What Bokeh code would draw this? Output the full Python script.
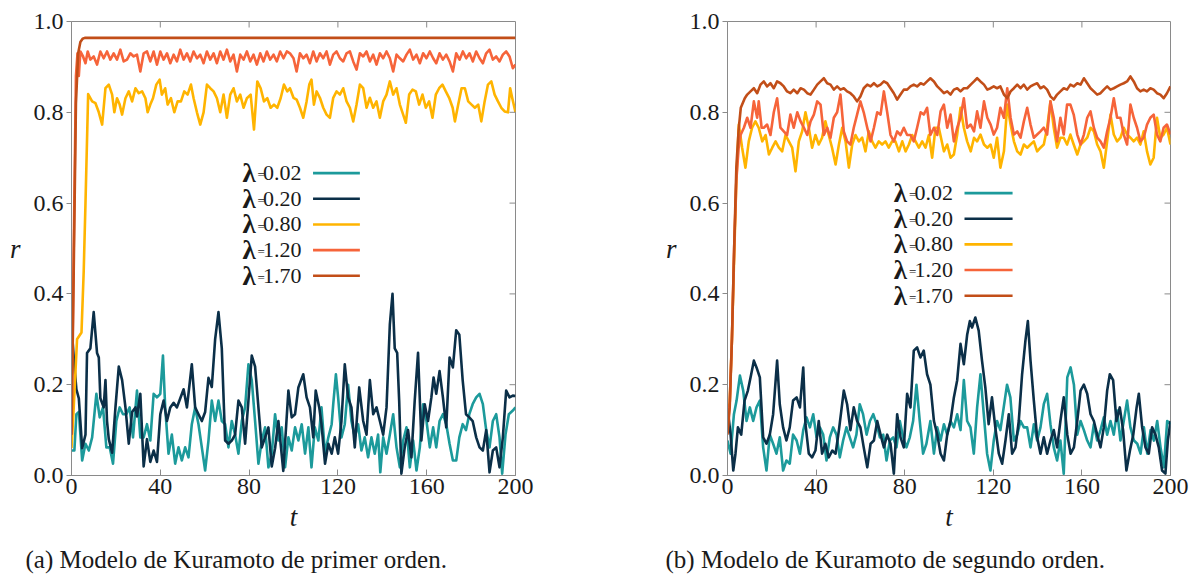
from bokeh.plotting import figure
from bokeh.models import (ColumnDataSource, FixedTicker, Range1d, Title, NumeralTickFormatter)
from bokeh.layouts import row
from bokeh.embed import file_html
from bokeh.resources import INLINE
from bokeh.core.properties import value

# ---------------- data ----------------
LAMBDAS = ["0.02", "0.20", "0.80", "1.20", "1.70"]
COLORS = ["#1c9a9b", "#0b2f48", "#ffb400", "#f6643a", "#c24e18"]
X_TICKS = [0, 40, 80, 120, 160, 200]
Y_TICKS = [0.0, 0.2, 0.4, 0.6, 0.8, 1.0]
CAPTIONS = ["(a) Modelo de Kuramoto de primer orden.",
            "(b) Modelo de Kuramoto de segundo orden."]

# (a) first order: (t, r) points
a_002 = [(0, 0.055), (1.3, 0.055), (2.2, 0.135), (3.3, 0.14), (4.8, 0.033), (6.3, 0.07), (7.8, 0.055),
         (9.3, 0.084), (11.2, 0.18), (12.7, 0.128), (14.2, 0.15), (15.7, 0.062), (17.2, 0.062),
         (18.7, 0.026), (20.2, 0.12), (21.7, 0.15), (23.2, 0.135), (24.7, 0.135), (26.2, 0.15),
         (27.7, 0.084), (29.5, 0.187), (31, 0.084), (32.5, 0.084), (34, 0.113), (35.5, 0.077),
         (37, 0.18), (38.5, 0.172), (40, 0.18), (41.2, 0.264), (42.2, 0.15), (43.7, 0.048),
         (45.2, 0.09), (46.7, 0.026), (48.2, 0.062), (49.7, 0.033), (51.2, 0.062), (52.7, 0.04),
         (54.2, 0.113), (55.7, 0.15), (57.2, 0.113), (58.7, 0.062), (60.2, 0.011), (61.7, 0.077),
         (63.2, 0.165), (64.7, 0.12), (66.2, 0.165), (67.7, 0.12), (69.2, 0.113), (70.7, 0.062),
         (72.2, 0.12), (73.7, 0.09), (75.2, 0.048), (76.7, 0.12), (78.2, 0.15), (79.7, 0.245),
         (81.2, 0.21), (82.7, 0.12), (84.2, 0.026), (85.7, 0.077), (87.2, 0.106), (88.7, 0.018),
         (90.2, 0.048), (91.7, 0.135), (93.2, 0.077), (94.7, 0.106), (96.2, 0.018), (97.7, 0.084),
         (99.2, 0.055), (100.7, 0.106), (102.2, 0.077), (103.7, 0.113), (105.2, 0.048),
         (106.7, 0.106), (108.1, 0.018), (109.6, 0.106), (111.2, 0.077), (112.6, 0.15),
         (114.2, 0.048), (115.7, 0.084), (117.2, 0.113), (117.9, 0.157), (119.1, 0.223),
         (120.1, 0.172), (121.6, 0.084), (123.1, 0.113), (124.6, 0.2), (126.1, 0.12),
         (127.6, 0.084), (129.1, 0.113), (130.6, 0.055), (132.1, 0.084), (133.6, 0.04),
         (135.1, 0.084), (136.6, 0.048), (138.1, 0.09), (139.1, 0.007), (140.4, 0.084),
         (141.9, 0.048), (143.4, 0.09), (144.9, 0.135), (146.4, 0.062), (147.9, 0.018),
         (149.4, 0.077), (150.9, 0.106), (152.4, 0.018), (153.9, 0.077), (155.4, 0.011),
         (156.9, 0.062), (158.4, 0.157), (159.9, 0.12), (161.4, 0.062), (162.9, 0.106),
         (164.3, 0.062), (165.8, 0.12), (167.3, 0.135), (168.8, 0.113), (170.3, 0.07),
         (171.8, 0.033), (173.3, 0.033), (174.7, 0.084), (176.2, 0.113), (177.7, 0.1),
         (179.2, 0.135), (180.7, 0.157), (182.3, 0.172), (183.8, 0.18), (185.3, 0.157),
         (186.8, 0.1), (188.3, 0.062), (189.8, 0.12), (191.3, 0.135), (192.8, 0.084),
         (194, 0.004), (195.5, 0.09), (197, 0.135), (198.8, 0.143), (200, 0.15)]

a_020 = [(0, 0.25), (0.3, 0.31), (1, 0.26), (2.2, 0.19), (3.3, 0.17), (4.8, 0.06), (6.3, 0.09),
         (7, 0.27), (8.5, 0.28), (10, 0.36), (11.5, 0.27), (12.3, 0.26), (13, 0.17), (14.5, 0.15),
         (15.3, 0.21), (16, 0.12), (16.8, 0.08), (18.3, 0.05), (19.8, 0.15), (21.3, 0.24),
         (22.8, 0.21), (24.3, 0.15), (25.8, 0.07), (27.3, 0.14), (28.8, 0.15), (29.5, 0.13),
         (31, 0.18), (32.5, 0.02), (34, 0.08), (35.5, 0.03), (37, 0.055), (38.5, 0.03),
         (40, 0.135), (41.5, 0.165), (43, 0.12), (44.5, 0.15), (46, 0.16), (47.5, 0.15),
         (49, 0.17), (50.5, 0.19), (52, 0.15), (54.2, 0.245), (55.7, 0.15), (57.2, 0.135),
         (58.7, 0.12), (60.2, 0.14), (61.7, 0.215), (63.2, 0.195), (64.7, 0.30), (66.2, 0.36),
         (67.7, 0.28), (69.2, 0.077), (70.7, 0.07), (72.2, 0.077), (73.7, 0.09), (75.2, 0.165),
         (76.7, 0.15), (78.2, 0.07), (79.7, 0.165), (81.2, 0.264), (82.7, 0.24), (84.2, 0.15),
         (85.7, 0.062), (87.2, 0.084), (88.7, 0.106), (90.2, 0.02), (91.7, 0.06), (93.2, 0.12),
         (95.4, 0.01), (97.7, 0.187), (99.2, 0.128), (100.7, 0.135), (102.2, 0.194),
         (104.4, 0.223), (105.9, 0.172), (107.4, 0.15), (108.9, 0.084), (110, 0.187),
         (111.6, 0.15), (112.6, 0.113), (114.2, 0.026), (115.7, 0.07), (117.2, 0.048),
         (118.6, 0.084), (120.1, 0.048), (121.6, 0.12), (123.1, 0.245), (124.6, 0.172),
         (126.1, 0.15), (127.6, 0.062), (129.6, 0.194), (131.4, 0.12), (132.9, 0.09),
         (134.4, 0.21), (135.9, 0.135), (137.4, 0.15), (138.9, 0.12), (140.4, 0.09),
         (141.9, 0.15), (143.4, 0.333), (144.6, 0.40), (145.6, 0.28), (146.7, 0.27),
         (147.6, 0.165), (148.6, 0.004), (150.1, 0.062), (151.6, 0.1), (153.1, 0.04),
         (154.6, 0.165), (156.1, 0.27), (157.6, 0.077), (159.1, 0.157), (160.6, 0.12),
         (162.1, 0.172), (163.1, 0.216), (164.3, 0.18), (165.8, 0.23), (167.3, 0.172),
         (168.8, 0.106), (170.3, 0.26), (171.8, 0.238), (173.3, 0.32), (174.7, 0.31),
         (176.2, 0.21), (177.7, 0.135), (179.2, 0.128), (180.7, 0.12), (182.3, 0.084),
         (183.8, 0.062), (185.3, 0.055), (186.8, 0.1), (188.3, 0.007), (189.8, 0.055),
         (191.3, 0.062), (192.8, 0.018), (194.3, 0.084), (195.8, 0.187), (197.3, 0.172),
         (198.8, 0.176), (200, 0.175)]

a_080 = [(0, 0.06), (1, 0.15), (2.5, 0.30), (4.5, 0.315), (5.5, 0.45), (6.3, 0.6), (7.5, 0.84),
         (9.3, 0.824), (10.8, 0.82), (12.3, 0.80), (13.8, 0.773), (15.3, 0.853), (16.8, 0.861),
         (18.3, 0.839), (19.3, 0.80), (20.5, 0.831), (21.7, 0.817), (22.8, 0.795), (24.3, 0.831),
         (25.8, 0.846), (27.3, 0.824), (28.8, 0.853), (30.3, 0.842), (31.8, 0.846), (33.3, 0.831),
         (34.3, 0.80), (35.5, 0.817), (36.7, 0.831), (38.2, 0.861), (39.7, 0.872), (40.7, 0.839),
         (42.2, 0.853), (43.3, 0.817), (44.8, 0.831), (46.3, 0.80), (47.8, 0.824), (49.3, 0.824),
         (50.8, 0.846), (52.3, 0.839), (53.8, 0.861), (55, 0.831), (56.5, 0.80), (58, 0.773),
         (59.5, 0.80), (61, 0.861), (62.5, 0.853), (64, 0.846), (65.5, 0.831), (67, 0.80),
         (68.5, 0.839), (70, 0.788), (71.5, 0.839), (73, 0.853), (74.5, 0.824), (76, 0.839),
         (77.5, 0.81), (79, 0.831), (80.7, 0.839), (82.2, 0.762), (83.7, 0.868), (85.2, 0.853),
         (86.7, 0.824), (88.2, 0.831), (89.7, 0.81), (91.2, 0.817), (92.7, 0.81), (94.2, 0.831),
         (95.7, 0.861), (97.2, 0.846), (98.4, 0.853), (100, 0.832), (101.4, 0.828),
         (102.9, 0.81), (104.4, 0.788), (105.9, 0.824), (107.1, 0.861), (108.1, 0.872),
         (109.2, 0.817), (110.4, 0.846), (111.9, 0.832), (113.4, 0.81), (114.9, 0.795),
         (116.4, 0.788), (117.9, 0.832), (119.4, 0.846), (120.9, 0.839), (122.4, 0.853),
         (123.9, 0.824), (125.4, 0.81), (126.9, 0.78), (128.4, 0.817), (129.9, 0.861),
         (131.4, 0.853), (132.9, 0.81), (134.4, 0.832), (135.9, 0.81), (137.4, 0.824),
         (138.9, 0.788), (140.4, 0.824), (141.9, 0.839), (143.4, 0.868), (144.9, 0.839),
         (146.4, 0.853), (147.9, 0.817), (149.4, 0.795), (150.6, 0.777), (152.1, 0.839),
         (153.6, 0.85), (155.1, 0.846), (156.6, 0.817), (158.1, 0.839), (159.6, 0.81),
         (161.1, 0.824), (162.6, 0.788), (164.1, 0.839), (165.6, 0.853), (167.1, 0.861),
         (168.6, 0.846), (170.1, 0.832), (171.7, 0.81), (172.7, 0.78), (174.2, 0.817),
         (175.7, 0.853), (177.2, 0.853), (178.7, 0.824), (180.2, 0.817), (181.7, 0.81),
         (183.2, 0.817), (184.6, 0.78), (186.1, 0.824), (187.6, 0.861), (189.1, 0.868),
         (190.6, 0.839), (192.1, 0.824), (193.6, 0.81), (195.1, 0.802), (196.6, 0.8),
         (197.6, 0.853), (198.5, 0.832), (200, 0.80)]

a_120 = [(0, 0.09), (1, 0.5), (2, 0.88), (2.7, 0.93), (3.3, 0.88), (4, 0.934), (5.2, 0.923),
         (6.3, 0.908), (7.3, 0.934), (8.5, 0.916), (10, 0.923), (11.5, 0.905), (13, 0.934),
         (14.5, 0.919), (16, 0.934), (17.5, 0.916), (19, 0.93), (20.5, 0.916), (22, 0.938),
         (23.5, 0.912), (25, 0.916), (26.5, 0.93), (28, 0.923), (29.5, 0.927), (31, 0.89),
         (32.5, 0.93), (34, 0.934), (35.5, 0.912), (37, 0.934), (38.5, 0.905), (40, 0.934),
         (41.5, 0.916), (43, 0.93), (44.5, 0.908), (46, 0.927), (47.5, 0.912), (49, 0.938),
         (50.5, 0.916), (52, 0.93), (53.5, 0.912), (55, 0.934), (56.5, 0.919), (58, 0.927),
         (59.5, 0.908), (61, 0.934), (62.5, 0.916), (64, 0.93), (65.5, 0.908), (67, 0.934),
         (68.5, 0.916), (70, 0.938), (71.5, 0.912), (73, 0.927), (74.5, 0.89), (76, 0.927),
         (77.5, 0.916), (79, 0.934), (80.5, 0.912), (82, 0.927), (83.5, 0.905), (85, 0.93),
         (86.5, 0.912), (88, 0.934), (89.5, 0.916), (91, 0.927), (92.5, 0.912), (94, 0.934),
         (95.5, 0.919), (97, 0.934), (98.4, 0.93), (100, 0.919), (101.4, 0.89), (102.9, 0.93),
         (104.4, 0.919), (105.9, 0.927), (107.4, 0.908), (108.9, 0.934), (110.4, 0.912),
         (111.9, 0.93), (113.4, 0.919), (114.9, 0.934), (116.4, 0.905), (117.9, 0.927),
         (119.4, 0.934), (120.9, 0.919), (122.4, 0.912), (123.9, 0.93), (125.4, 0.934),
         (126.9, 0.912), (128.4, 0.894), (129.9, 0.93), (131.4, 0.923), (132.9, 0.934),
         (134.4, 0.912), (135.9, 0.927), (137.4, 0.905), (138.9, 0.93), (140.4, 0.919),
         (141.9, 0.934), (143.4, 0.919), (144.9, 0.89), (146.4, 0.927), (147.9, 0.919),
         (149.4, 0.912), (150.9, 0.927), (152.4, 0.938), (153.9, 0.916), (155.4, 0.927),
         (156.9, 0.908), (158.4, 0.93), (159.9, 0.919), (161.4, 0.934), (162.9, 0.919),
         (164.3, 0.908), (165.8, 0.93), (167.3, 0.916), (168.8, 0.927), (170.3, 0.912),
         (171.8, 0.89), (173.3, 0.93), (174.8, 0.916), (176.3, 0.934), (177.8, 0.919),
         (179.3, 0.93), (180.8, 0.912), (182.3, 0.934), (183.8, 0.919), (185.3, 0.908),
         (186.8, 0.93), (188.3, 0.938), (189.8, 0.916), (191.3, 0.923), (192.8, 0.912),
         (194.3, 0.927), (195.8, 0.934), (197.3, 0.923), (198.8, 0.897), (200, 0.905)]

a_170 = [(0, 0.09), (1, 0.45), (2, 0.82), (3, 0.93), (4, 0.955), (5, 0.962), (6, 0.964), (200, 0.964)]

# (b) second order: (t, r) points
b_002 = [(0, 0.077), (1.4, 0.048), (2.9, 0.135), (4.1, 0.165), (5.6, 0.22), (7.1, 0.187),
         (8.6, 0.12), (10.1, 0.15), (11.6, 0.12), (13.1, 0.15), (14.6, 0.165), (16.1, 0.062),
         (17.6, 0.011), (19.1, 0.09), (20.6, 0.07), (22.1, 0.048), (23.6, 0.084), (25.1, 0.011),
         (26.6, 0.033), (28.1, 0.026), (29.6, 0.09), (31.2, 0.077), (32.7, 0.048), (34.2, 0.1),
         (35.7, 0.128), (37.2, 0.106), (38.7, 0.135), (40.2, 0.084), (41.7, 0.106), (43.2, 0.09),
         (44.7, 0.033), (46.2, 0.084), (47.7, 0.106), (49.2, 0.09), (50.7, 0.04), (52.2, 0.077),
         (53.7, 0.106), (55.2, 0.084), (56.7, 0.062), (58.2, 0.09), (59.7, 0.157), (61.2, 0.135),
         (62.8, 0.09), (64.3, 0.12), (65.8, 0.135), (67.3, 0.113), (68.8, 0.084), (70.3, 0.09),
         (71.8, 0.033), (73.3, 0.077), (74.8, 0.084), (76.3, 0.062), (77.8, 0.12), (79.3, 0.084),
         (80.8, 0.062), (82.3, 0.084), (83.8, 0.12), (85.3, 0.2), (86.8, 0.12), (88.3, 0.048),
         (89.8, 0.07), (91.6, 0.12), (93.2, 0.048), (94.7, 0.106), (96.2, 0.077), (97.7, 0.113),
         (99.2, 0.09), (100.7, 0.12), (102.2, 0.106), (103.7, 0.135), (105.2, 0.1), (106.7, 0.21),
         (108.2, 0.12), (109.7, 0.106), (111.2, 0.048), (112.7, 0.15), (114.2, 0.223),
         (115.7, 0.135), (117.2, 0.048), (118.7, 0.011), (120.2, 0.077), (121.7, 0.12),
         (123.2, 0.1), (124.7, 0.15), (126.2, 0.2), (127.7, 0.172), (129.3, 0.077), (130.8, 0.09),
         (132.3, 0.12), (133.8, 0.106), (135.3, 0.106), (136.8, 0.062), (138.3, 0.113),
         (139.8, 0.077), (141.3, 0.106), (142.8, 0.157), (144.3, 0.18), (145.8, 0.113),
         (147.3, 0.062), (148.8, 0.033), (150.3, 0.077), (151.8, 0.004), (153.4, 0.216),
         (154.9, 0.238), (156.4, 0.2), (157.9, 0.09), (159.4, 0.12), (160.9, 0.1), (162.4, 0.077),
         (163.9, 0.062), (165.4, 0.113), (166.9, 0.077), (168.4, 0.1), (169.9, 0.128),
         (171.4, 0.09), (172.9, 0.12), (174.4, 0.09), (175.9, 0.143), (177.4, 0.077),
         (178.9, 0.12), (180.4, 0.165), (181.9, 0.106), (183.5, 0.077), (185, 0.07),
         (186.5, 0.048), (188, 0.106), (189.5, 0.048), (191, 0.1), (192.5, 0.077), (194, 0.12),
         (195.5, 0.062), (197, 0.018), (198.5, 0.12), (200, 0.113)]

b_020 = [(0, 0.15), (1.4, 0.09), (2.6, 0.011), (3.6, 0.048), (4.7, 0.106), (6.2, 0.09),
         (7.7, 0.165), (9.2, 0.187), (10.7, 0.223), (11.9, 0.253), (13.1, 0.238), (14.6, 0.216),
         (16.1, 0.084), (17.6, 0.07), (19.1, 0.09), (20.6, 0.135), (22.4, 0.253), (23.6, 0.157),
         (25.1, 0.106), (26.6, 0.077), (28.1, 0.106), (29.6, 0.165), (31.2, 0.172), (32.7, 0.15),
         (34.2, 0.238), (35.2, 0.113), (36.7, 0.048), (38.2, 0.04), (39.7, 0.055), (41.2, 0.12),
         (42.7, 0.048), (44.2, 0.07), (45.7, 0.04), (47.3, 0.055), (48.8, 0.048), (50.3, 0.1),
         (52.5, 0.187), (54, 0.157), (55.5, 0.1), (57, 0.15), (58.5, 0.12), (60, 0.106),
         (61.5, 0.062), (63.1, 0.018), (64.6, 0.07), (66.1, 0.077), (67.6, 0.12), (69.1, 0.09),
         (70.6, 0.062), (72.1, 0.09), (73.6, 0.07), (75.1, 0.004), (76.6, 0.135), (78.1, 0.084),
         (79.6, 0.062), (81.1, 0.18), (82.6, 0.15), (84.1, 0.275), (85.6, 0.282), (87.1, 0.26),
         (88.6, 0.275), (90.1, 0.223), (91.6, 0.2), (93.2, 0.12), (94.7, 0.09), (96.2, 0.048),
         (97.7, 0.033), (99.2, 0.09), (100.7, 0.12), (102.2, 0.172), (103.7, 0.21), (105.2, 0.29),
         (106.7, 0.245), (108.2, 0.31), (109.4, 0.34), (110.4, 0.326), (111.9, 0.348),
         (113.4, 0.319), (114.9, 0.253), (116.4, 0.194), (117.9, 0.113), (119.4, 0.172),
         (120.9, 0.106), (122.5, 0.048), (124, 0.026), (125.5, 0.077), (127, 0.135),
         (128.5, 0.048), (130, 0.062), (131.5, 0.12), (133, 0.223), (134.5, 0.297), (135.6, 0.34),
         (136.8, 0.253), (138.3, 0.165), (139.8, 0.084), (141.3, 0.048), (142.8, 0.084),
         (144.3, 0.048), (145.8, 0.077), (147.3, 0.1), (148.8, 0.062), (150.3, 0.12),
         (151.8, 0.172), (153.4, 0.09), (154.9, 0.048), (156.4, 0.062), (157.9, 0.12),
         (159.4, 0.187), (160.9, 0.2), (162.4, 0.18), (163.9, 0.135), (165.4, 0.12),
         (166.9, 0.09), (168.4, 0.062), (169.9, 0.106), (171.4, 0.187), (172.6, 0.223),
         (174.1, 0.21), (175.6, 0.12), (177.1, 0.15), (178.6, 0.1), (180.1, 0.011),
         (181.7, 0.055), (183.2, 0.09), (184.7, 0.15), (185.7, 0.18), (187.2, 0.106),
         (188.7, 0.062), (190.2, 0.048), (191.7, 0.106), (193.2, 0.09), (194.7, 0.062),
         (196.2, 0.011), (197.7, 0.004), (198.8, 0.077), (200, 0.12)]

b_080 = [(0, 0.14), (1, 0.16), (2, 0.3), (3, 0.48), (4, 0.65), (5.1, 0.773), (6.6, 0.722),
         (8.1, 0.678), (9.6, 0.736), (11.1, 0.766), (12.6, 0.78), (14.1, 0.766), (15.7, 0.736),
         (17.2, 0.75), (18.7, 0.707), (20.2, 0.722), (21.7, 0.736), (23.2, 0.722), (24.7, 0.714),
         (26.2, 0.75), (27.7, 0.736), (29.2, 0.722), (30.7, 0.67), (32.2, 0.736), (33.7, 0.758),
         (35.2, 0.80), (36.7, 0.766), (38.2, 0.722), (39.7, 0.75), (41.2, 0.729), (42.7, 0.744),
         (44.2, 0.78), (45.7, 0.75), (47.2, 0.722), (48.8, 0.685), (50.3, 0.729), (51.8, 0.766),
         (53.3, 0.736), (54.8, 0.678), (56.3, 0.729), (57.8, 0.75), (59.3, 0.736), (60.8, 0.744),
         (62.3, 0.714), (63.8, 0.758), (65.3, 0.736), (66.8, 0.722), (68.3, 0.736), (69.8, 0.729),
         (71.3, 0.736), (72.8, 0.722), (74.3, 0.736), (75.8, 0.736), (77.4, 0.714), (78.9, 0.736),
         (80.4, 0.714), (81.9, 0.729), (83.4, 0.75), (84.9, 0.736), (86.4, 0.722), (87.9, 0.736),
         (89.4, 0.722), (90.9, 0.75), (92.4, 0.70), (93.9, 0.766), (95.4, 0.766), (97.7, 0.714),
         (99.2, 0.729), (100.7, 0.70), (102.2, 0.707), (103.7, 0.751), (105.2, 0.81),
         (106.7, 0.766), (108.2, 0.736), (109.8, 0.714), (111.3, 0.744), (112.7, 0.736),
         (114.2, 0.751), (115.8, 0.729), (117.3, 0.722), (118.8, 0.729), (120.2, 0.70),
         (121.7, 0.744), (123.2, 0.678), (124.8, 0.714), (126.3, 0.817), (127.8, 0.773),
         (129.3, 0.736), (130.8, 0.714), (132.3, 0.707), (133.8, 0.729), (135.3, 0.722),
         (136.8, 0.729), (138.3, 0.736), (139.8, 0.714), (141.3, 0.722), (142.8, 0.729),
         (144.3, 0.766), (145.8, 0.824), (147.3, 0.766), (148.8, 0.722), (150.3, 0.744),
         (151.8, 0.744), (153.3, 0.729), (154.8, 0.751), (156.3, 0.729), (157.9, 0.707),
         (159.4, 0.729), (160.9, 0.736), (162.4, 0.744), (163.9, 0.766), (165.4, 0.758),
         (166.9, 0.729), (168.4, 0.714), (169.9, 0.678), (171.4, 0.736), (172.9, 0.795),
         (174.4, 0.751), (175.9, 0.736), (177.4, 0.744), (178.9, 0.766), (180.4, 0.751),
         (181.9, 0.744), (183.4, 0.736), (184.9, 0.744), (186.4, 0.729), (187.9, 0.758),
         (189.4, 0.714), (190.9, 0.685), (192.4, 0.70), (193.9, 0.788), (195.4, 0.744),
         (196.9, 0.751), (198.4, 0.766), (200, 0.729)]

b_120 = [(0, 0.1), (1, 0.16), (2, 0.3), (3, 0.5), (4, 0.65), (5, 0.72), (5.9, 0.75), (7.4, 0.766),
         (8.9, 0.788), (10.4, 0.766), (11.9, 0.824), (13.4, 0.788), (14.1, 0.824), (15.4, 0.766),
         (16.4, 0.766), (17.9, 0.773), (19.4, 0.75), (20.9, 0.80), (22.4, 0.831), (23.9, 0.766),
         (25.4, 0.758), (26.9, 0.75), (28.4, 0.795), (29.9, 0.766), (31.5, 0.80), (33, 0.78),
         (34.5, 0.766), (36, 0.75), (37.5, 0.78), (39, 0.795), (40.5, 0.824), (42, 0.817),
         (43.5, 0.75), (45, 0.766), (46.5, 0.744), (48, 0.788), (49.5, 0.80), (51, 0.839),
         (52.5, 0.758), (54, 0.736), (55.5, 0.729), (57, 0.766), (58.5, 0.795), (60, 0.824),
         (61.5, 0.80), (63.1, 0.766), (64.6, 0.736), (66.1, 0.766), (67.6, 0.80), (69.1, 0.795),
         (70.6, 0.846), (72.1, 0.80), (73.6, 0.75), (75.1, 0.736), (76.6, 0.758), (78.1, 0.75),
         (79.6, 0.766), (81.1, 0.75), (82.6, 0.75), (84.1, 0.736), (85.6, 0.766), (87.2, 0.80),
         (88.6, 0.795), (90.1, 0.81), (91.6, 0.75), (93.2, 0.766), (94.7, 0.75), (96.2, 0.802),
         (97.7, 0.817), (99.2, 0.766), (100.7, 0.795), (102.2, 0.736), (103.7, 0.766),
         (105.2, 0.788), (106.7, 0.831), (108.2, 0.766), (109.8, 0.773), (111.3, 0.758),
         (112.7, 0.802), (114.2, 0.766), (115.8, 0.824), (117.3, 0.788), (118.8, 0.773),
         (120.2, 0.751), (121.7, 0.766), (123.2, 0.81), (124.8, 0.788), (126.3, 0.853),
         (127.8, 0.788), (129.3, 0.751), (130.8, 0.758), (132.3, 0.744), (133.8, 0.78),
         (135.3, 0.81), (136.8, 0.773), (138.3, 0.744), (139.8, 0.751), (141.3, 0.758),
         (142.8, 0.766), (144.3, 0.751), (145.8, 0.824), (147.3, 0.788), (148.8, 0.736),
         (150.3, 0.788), (151.8, 0.751), (153.3, 0.817), (154.8, 0.817), (156.3, 0.795),
         (157.9, 0.751), (159.4, 0.729), (160.9, 0.751), (162.4, 0.788), (163.9, 0.802),
         (165.4, 0.766), (166.9, 0.744), (168.4, 0.736), (169.9, 0.722), (171.4, 0.758),
         (172.9, 0.788), (174.4, 0.831), (175.9, 0.788), (177.4, 0.788), (178.9, 0.751),
         (180.4, 0.729), (181.9, 0.817), (183.4, 0.788), (184.9, 0.766), (186.4, 0.736),
         (187.9, 0.744), (189.4, 0.773), (190.9, 0.788), (192.4, 0.795), (193.9, 0.751),
         (195.4, 0.736), (196.9, 0.766), (198.4, 0.773), (200, 0.751)]

b_170 = [(0, 0.09), (1, 0.15), (2, 0.3), (3, 0.5), (4, 0.68), (5, 0.76), (6, 0.81), (7.8, 0.831),
         (8.9, 0.839), (10.4, 0.846), (11.9, 0.853), (13.4, 0.842), (14.9, 0.861), (16.4, 0.868),
         (17.9, 0.857), (19.4, 0.864), (20.9, 0.853), (22.4, 0.868), (23.9, 0.864), (25.4, 0.857),
         (26.9, 0.846), (28.4, 0.842), (29.9, 0.85), (31.5, 0.842), (33, 0.853), (34.5, 0.85),
         (36, 0.842), (37.5, 0.839), (39, 0.85), (40.5, 0.861), (42, 0.868), (43.5, 0.875),
         (45, 0.864), (46.5, 0.861), (48, 0.85), (49.5, 0.857), (51, 0.85), (52.5, 0.853),
         (54, 0.846), (55.5, 0.842), (57, 0.835), (58.5, 0.824), (60, 0.835), (61.5, 0.853),
         (63.1, 0.861), (64.6, 0.857), (66.1, 0.864), (67.6, 0.857), (69.1, 0.861), (70.6, 0.868),
         (72.1, 0.864), (73.6, 0.853), (75.1, 0.842), (76.6, 0.828), (78.1, 0.839), (79.6, 0.85),
         (81.1, 0.85), (82.6, 0.857), (84.1, 0.861), (85.6, 0.857), (87.2, 0.864), (88.6, 0.861),
         (90.1, 0.868), (91.6, 0.875), (93.2, 0.868), (94.7, 0.857), (96.2, 0.85), (97.7, 0.842),
         (99.2, 0.846), (100.7, 0.839), (102.2, 0.85), (103.7, 0.853), (105.2, 0.846),
         (106.7, 0.853), (108.2, 0.853), (109.8, 0.861), (111.3, 0.868), (112.7, 0.875),
         (114.2, 0.868), (115.8, 0.861), (117.3, 0.85), (118.8, 0.853), (120.2, 0.857),
         (121.7, 0.853), (123.2, 0.857), (124.8, 0.839), (126.3, 0.831), (127.8, 0.846),
         (129.3, 0.853), (130.8, 0.861), (132.3, 0.853), (133.8, 0.861), (135.3, 0.85),
         (136.8, 0.857), (138.3, 0.861), (139.8, 0.864), (141.3, 0.853), (142.8, 0.857),
         (144.3, 0.85), (145.8, 0.835), (147.3, 0.828), (148.8, 0.839), (150.3, 0.846),
         (151.8, 0.853), (153.3, 0.85), (154.8, 0.861), (156.3, 0.857), (157.9, 0.864),
         (159.4, 0.861), (160.9, 0.875), (162.4, 0.864), (163.9, 0.853), (165.4, 0.846),
         (166.9, 0.839), (168.4, 0.842), (169.9, 0.85), (171.4, 0.857), (172.9, 0.85),
         (174.4, 0.853), (175.9, 0.857), (177.4, 0.861), (178.9, 0.864), (180.4, 0.868),
         (181.9, 0.879), (183.4, 0.868), (184.9, 0.853), (186.4, 0.846), (187.9, 0.85),
         (189.4, 0.846), (190.9, 0.853), (192.4, 0.85), (193.9, 0.842), (195.4, 0.839),
         (196.9, 0.831), (198.4, 0.842), (200, 0.857)]

SERIES_A = [a_002, a_020, a_080, a_120, a_170]
SERIES_B = [b_002, b_020, b_080, b_120, b_170]

# ---------------- styling ----------------
FONT = "'Liberation Serif', 'DejaVu Serif', serif"
AXIS_GRAY = "#8a8a8a"
TEXT = "#1a1a1a"
LINE_W = 2.6
X_MIN, X_MAX, Y_MIN, Y_MAX = 0, 200, 0.0, 1.0


def style_axis(ax, tick_in, tick_out):
    ax.axis_line_color = AXIS_GRAY
    ax.axis_line_width = 1
    ax.major_tick_line_color = AXIS_GRAY
    ax.major_tick_in = tick_in
    ax.major_tick_out = tick_out
    ax.minor_tick_line_color = None
    ax.major_label_text_font = FONT
    ax.major_label_text_color = TEXT
    ax.major_label_text_font_size = "24px"


def make_panel(series, border_left, border_right, caption, cap_offset, legend):
    p = figure(width=600, height=586, x_range=Range1d(X_MIN, X_MAX), y_range=Range1d(Y_MIN, Y_MAX),
               output_backend="svg", toolbar_location=None,
               min_border_left=border_left, min_border_right=border_right,
               min_border_top=21, min_border_bottom=111,
               background_fill_color="white", border_fill_color="white")
    p.grid.visible = False
    p.outline_line_color = AXIS_GRAY

    for pts, col in zip(series, COLORS):
        src = ColumnDataSource(dict(t=[a for a, b in pts], r=[b for a, b in pts]))
        p.line("t", "r", source=src, line_color=col, line_width=LINE_W, line_join="round")

    # bottom / left axes
    p.xaxis.ticker = FixedTicker(ticks=X_TICKS)
    p.yaxis.ticker = FixedTicker(ticks=Y_TICKS)
    p.yaxis.formatter = NumeralTickFormatter(format="0.0")
    style_axis(p.xaxis[0], 6, 0)
    style_axis(p.yaxis[0], 0, 5)
    p.xaxis.major_label_standoff = 3
    p.yaxis.major_label_standoff = 3
    p.xaxis.axis_label = "t"
    p.yaxis.axis_label = "r"
    for ax in (p.xaxis[0], p.yaxis[0]):
        ax.axis_label_text_font = FONT
        ax.axis_label_text_font_style = "italic"
        ax.axis_label_text_font_size = "27px"
        ax.axis_label_text_color = TEXT
    p.xaxis.axis_label_standoff = 5
    p.yaxis.axis_label_standoff = 10
    if "axis_label_orientation" in p.yaxis[0].properties():
        p.yaxis[0].axis_label_orientation = "horizontal"

    # inner tick marks on the top and right frame edges
    dy_tick = 6.0 / 454 * (Y_MAX - Y_MIN)
    dx_tick = 6.0 / 444 * (X_MAX - X_MIN)
    xt = X_TICKS[1:-1]
    yt = Y_TICKS[1:-1]
    p.segment(x0=xt, y0=[Y_MAX] * len(xt), x1=xt, y1=[Y_MAX - dy_tick] * len(xt),
              line_color=AXIS_GRAY, line_width=1)
    p.segment(x0=[X_MAX] * len(yt), y0=yt, x1=[X_MAX - dx_tick] * len(yt), y1=yt,
              line_color=AXIS_GRAY, line_width=1)

    # caption below the panel
    cap = Title(text=caption, align="left", offset=cap_offset, text_font=FONT,
                text_font_size="25px", text_font_style="normal", text_color=TEXT, standoff=18)
    p.add_layout(cap, "below")

    # legend: text on the left, line sample on the right
    lam_x, eq_x, num_x, x0, x1, y0, dy = legend
    n = len(LAMBDAS)
    ys = [y0 - i * dy for i in range(n)]
    p.text(x=[lam_x] * n, y=ys, text=["λ"] * n, text_font=value(FONT), text_font_style="bold",
           text_font_size="27px", text_color=TEXT, text_baseline="middle", text_align="left")
    p.text(x=[eq_x] * n, y=[v - 0.004 for v in ys], text=["="] * n, text_font=value(FONT),
           text_font_size="13px", text_color=TEXT, text_baseline="middle", text_align="left")
    p.text(x=[num_x] * n, y=ys, text=LAMBDAS, text_font=value(FONT),
           text_font_size="22px", text_color=TEXT, text_baseline="middle", text_align="left")
    p.segment(x0=[x0] * n, y0=ys, x1=[x1] * n, y1=ys, line_color=COLORS, line_width=LINE_W)
    return p


pa = make_panel(SERIES_A, 71, 85, CAPTIONS[0], -46,
                (77.0, 83.8, 86.3, 108.8, 129.9, 0.666, 0.0565))
pb = make_panel(SERIES_B, 127, 30, CAPTIONS[1], -62,
                (75.1, 81.9, 84.4, 107.0, 128.7, 0.622, 0.0565))

layout = row(pa, pb, spacing=0)
open("out.html", "w").write(file_html(layout, INLINE))
